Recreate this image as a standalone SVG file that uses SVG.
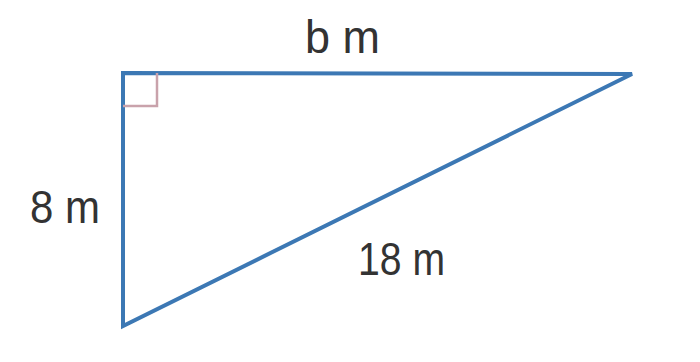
<svg xmlns="http://www.w3.org/2000/svg" width="700" height="362" viewBox="0 0 700 362">
<style>
.lbl{font-family:"Liberation Sans",Arial,sans-serif;font-size:46px;fill:#333;}
.side{stroke:#3c78b4;stroke-width:4;fill:none;stroke-linejoin:miter;}
</style>
<rect width="700" height="362" fill="#ffffff"/>
<g id="connectors">
<polygon class="side" points="123,73 632,74 123,326"/>
</g>
<g id="right-angle">
<polyline points="123,106 157,106 157,73" fill="none" stroke="#c9a2ab" stroke-width="2.5"/>
</g>
<g id="label-b"><text class="lbl" x="305" y="53" textLength="75" lengthAdjust="spacingAndGlyphs">b m</text></g>
<g id="label-8"><text class="lbl" x="30" y="223" textLength="70" lengthAdjust="spacingAndGlyphs">8 m</text></g>
<g id="label-18"><text class="lbl" x="358" y="275" textLength="87" lengthAdjust="spacingAndGlyphs">18 m</text></g>
</svg>
